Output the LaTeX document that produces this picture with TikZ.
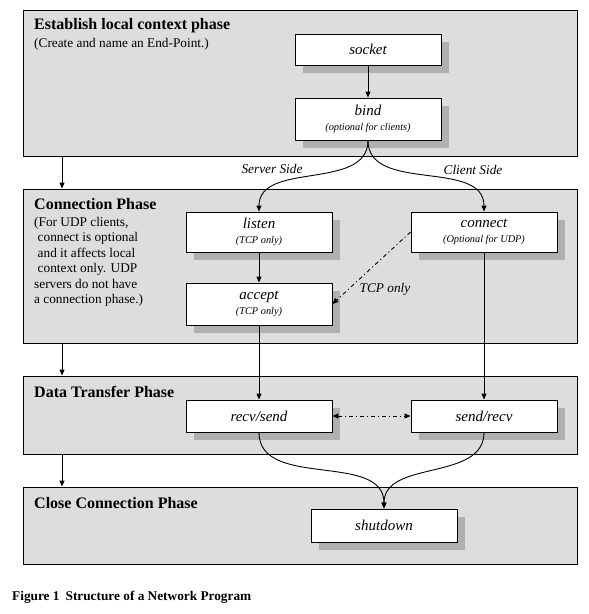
\documentclass[tikz,border=0pt]{standalone}
\usepackage{fontspec}
\setmainfont{Liberation Serif}
\usepackage{xcolor}
\usepackage{tikz}
\usetikzlibrary{positioning, arrows.meta, shapes, shadows}

\definecolor{phasegray}{RGB}{221,221,221}
\definecolor{shadowgray}{RGB}{176,176,176}

\tikzset{
    phase/.style={draw, fill=phasegray, line width=0.9pt, minimum width=554pt, inner sep=0pt},
    callbox/.style={draw, fill=white, line width=0.9pt, minimum width=146pt, inner sep=0pt, align=center,
        font=\fontsize{15}{15}\selectfont\itshape,
        drop shadow={shadow xshift=8pt, shadow yshift=-8pt, fill=shadowgray, opacity=1}},
    flow/.style={line width=0.9pt, -{Triangle[length=6pt, width=5pt]}},
    dashflow/.style={flow, dash pattern=on 4pt off 3pt on 1pt off 3pt},
    phasetitle/.style={anchor=base west, inner sep=0pt, font=\fontsize{16}{18}\selectfont\bfseries},
    note/.style={inner sep=0pt, font=\fontsize{13.3}{15.4}\selectfont},
    sidenote/.style={inner sep=0pt, font=\fontsize{13.3}{15.4}\selectfont\itshape}
}
\newcommand{\callsub}[1]{{\fontsize{10.3}{15}\selectfont #1}}

\begin{document}
\begin{tikzpicture}[x=1pt, y=1pt]
        \useasboundingbox (0,0) rectangle (589,-614);

        % Phase boxes
        \node[phase, minimum height=146pt] (establish) at (300,-83) {};
        \node[phase, minimum height=154pt] (connphase) at (300,-266) {};
        \node[phase, minimum height=78pt] (dataphase) at (300,-415) {};
        \node[phase, minimum height=77pt] (closephase) at (300,-525.5) {};

        % Phase titles and notes
        \node[phasetitle] (establishtitle) at (34,-29.5) {Establish local context phase};
        \node[phasetitle] (conntitle) at (34,-209.5) {Connection Phase};
        \node[phasetitle] (datatitle) at (34,-397.5) {Data Transfer Phase};
        \node[phasetitle] (closetitle) at (34,-508.5) {Close Connection Phase};
        \node[note, anchor=base west] (endpointnote) at (34,-47.5) {(Create and name an End-Point.)};
        \node[note, anchor=north west, align=left] (udpnote) at (34,-217)
            {(For UDP clients,\\
             \hspace*{3.5pt}connect is optional\\
             \hspace*{3.5pt}and it affects local\\
             \hspace*{3.5pt}context only. UDP\\
             servers do not have\\
             a connection phase.)};

        % Socket calls
        \node[callbox, minimum height=31pt] (socket) at (368,-49.5) {socket};
        \node[callbox, minimum height=42pt] (bind) at (368,-119) {bind\\\callsub{(optional for clients)}};
        \node[callbox, minimum height=40pt] (listen) at (259,-232) {listen\\\callsub{(TCP only)}};
        \node[callbox, minimum height=40pt] (connect) at (484,-232) {connect\\\callsub{(Optional for UDP)}};
        \node[callbox, minimum height=42pt] (accept) at (259,-304) {accept\\\callsub{(TCP only)}};
        \node[callbox, minimum height=32pt] (recvsend) at (259,-416) {recv/send};
        \node[callbox, minimum height=32pt] (sendrecv) at (484,-416) {send/recv};
        \node[callbox, minimum height=33pt] (shutdown) at (384,-525.5) {shutdown};

        % Side labels
        \node[sidenote] (serverside) at (272,-169) {Server Side};
        \node[sidenote] (clientside) at (473,-170) {Client Side};
        \node[sidenote] (tcponly) at (385,-289) {TCP only};

        % Phase order
        \coordinate (side) at (62,0);
        \foreach \a/\b in {establish/connphase, connphase/dataphase, dataphase/closephase}
            \draw[flow] (\a.south -| side) -- (\b.north -| side);

        % Call order
        \draw[flow] (socket) -- (bind);
        \draw[flow] (bind.south) to[out=-90, in=90] (listen.north);
        \draw[flow] (bind.south) to[out=-90, in=90] (connect.north);
        \draw[flow] (listen) -- (accept);
        \draw[dashflow] (connect.west) -- (accept.east);
        \draw[flow] (accept) -- (recvsend);
        \draw[flow] (connect) -- (sendrecv);
        \draw[dashflow, {Triangle[length=6pt, width=5pt]}-{Triangle[length=6pt, width=5pt]}] (recvsend) -- (sendrecv);
        \draw[flow] (recvsend.south) to[out=-90, in=90] (shutdown.north);
        \draw[flow] (sendrecv.south) to[out=-90, in=90] (shutdown.north);

        % Caption
        \node[anchor=base west, inner sep=0pt, font=\fontsize{13.3}{16}\selectfont\bfseries] (caption) at (12,-600)
            {Figure 1\hspace{6pt}Structure of a Network Program};
    \end{tikzpicture}
\end{document}
